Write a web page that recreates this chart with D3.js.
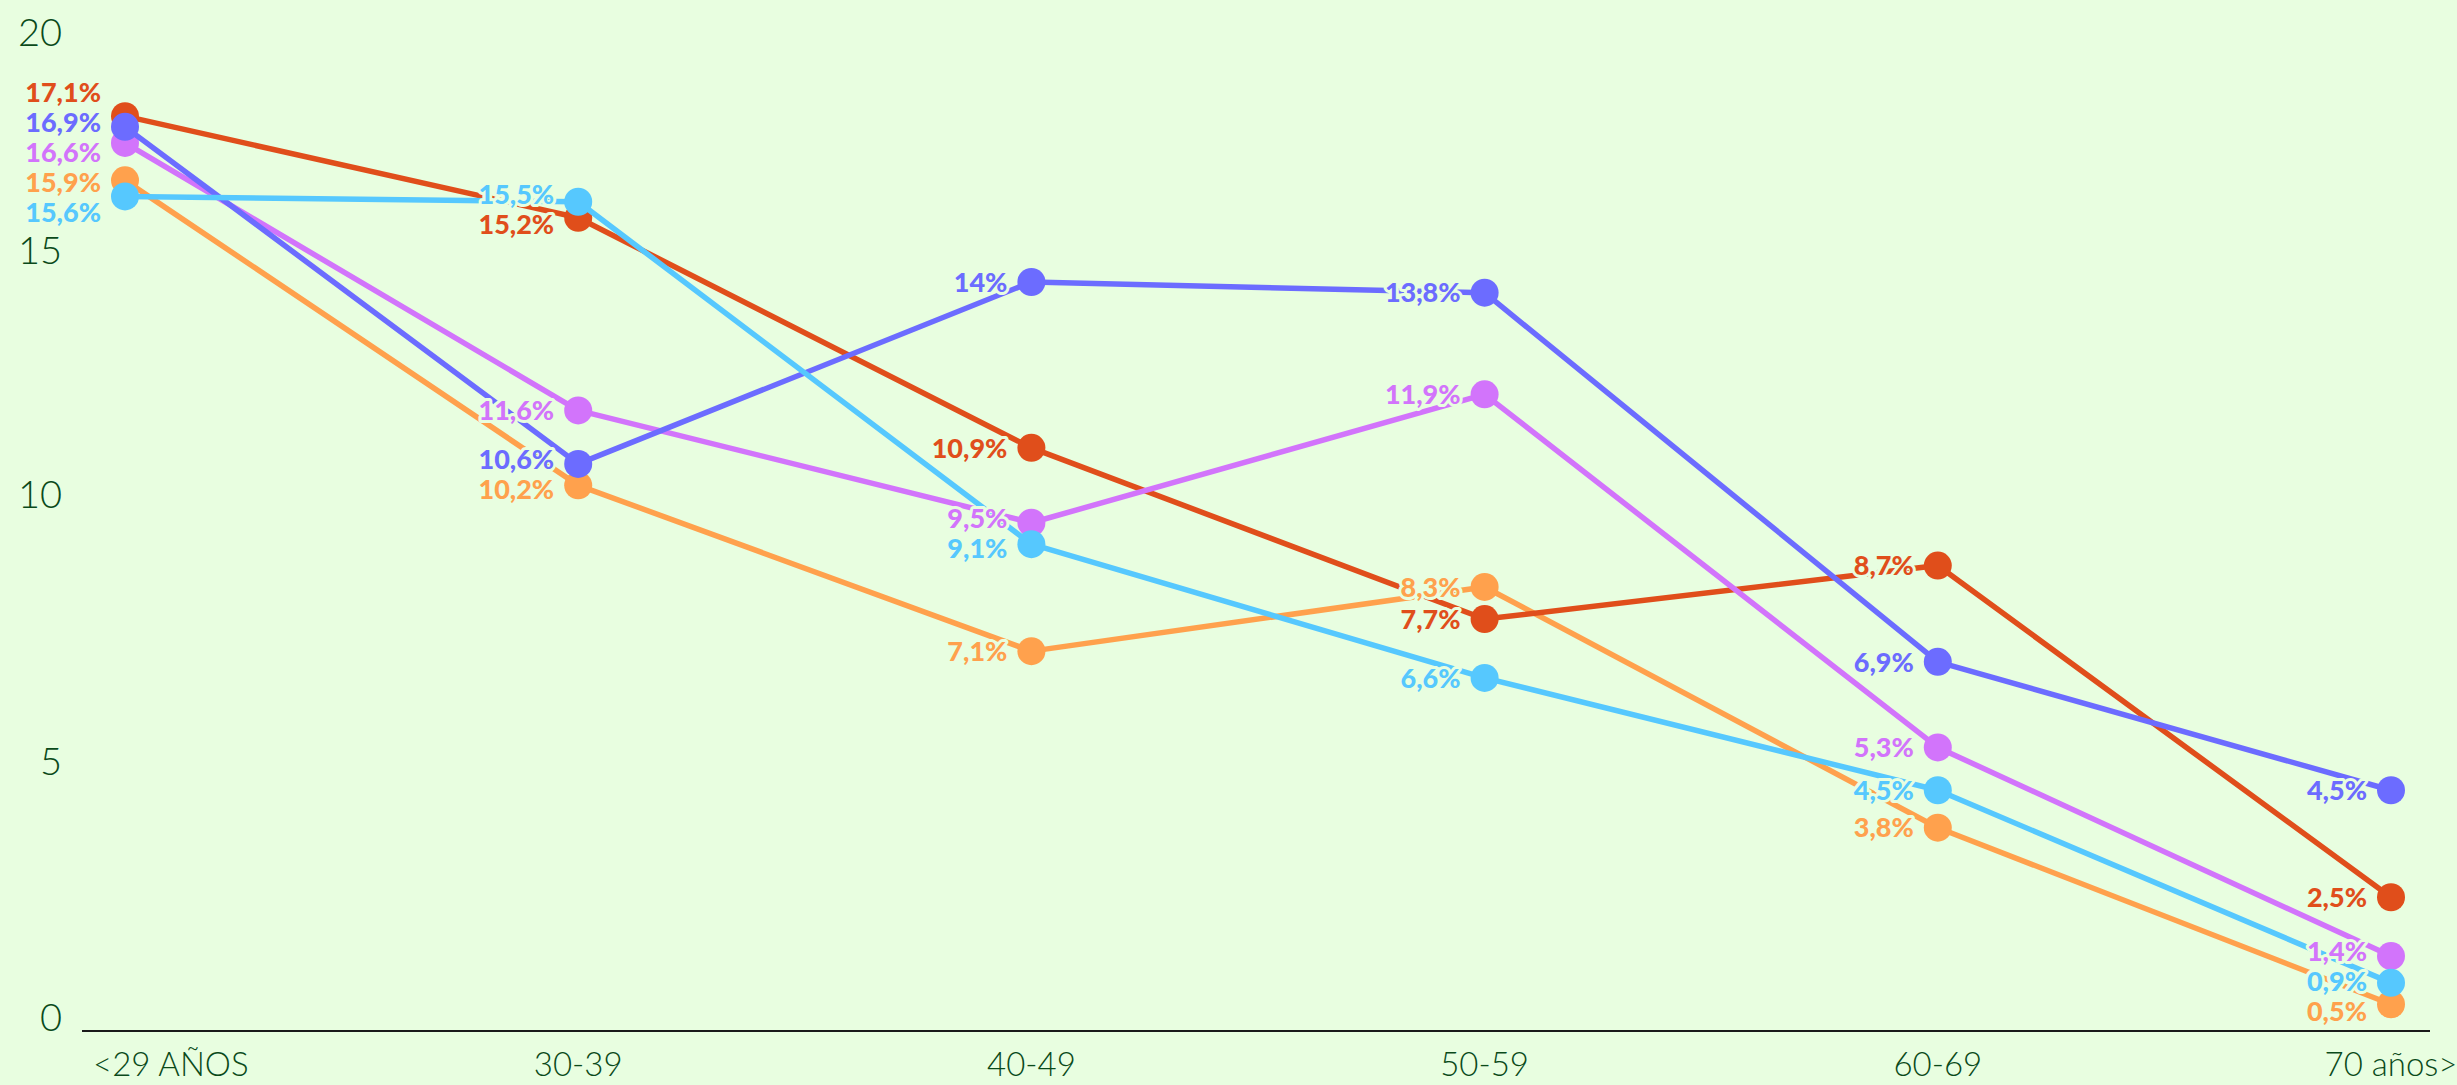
<!DOCTYPE html>
<html>
<head>
<meta charset="utf-8">
<script src="https://cdn.jsdelivr.net/npm/d3@7"></script>
<style>
  html, body { margin: 0; padding: 0; background: #e8fee0; }
  svg { display: block; }
</style>
</head>
<body>
<div id="chart"></div>
<script>
// age groups on the x axis
const categories = ["<29 AÑOS", "30-39", "40-49", "50-59", "60-69", "70 años>"];

// percentages per series
const serieRoja    = [17.1, 15.2, 10.9, 7.7, 8.7, 2.5];
const serieAzul    = [16.9, 10.6, 14, 13.8, 6.9, 4.5];
const serieMorada  = [16.6, 11.6, 9.5, 11.9, 5.3, 1.4];
const serieNaranja = [15.9, 10.2, 7.1, 8.3, 3.8, 0.5];
const serieCeleste = [15.6, 15.5, 9.1, 6.6, 4.5, 0.9];

const yTicks = [0, 5, 10, 15, 20];

const width = 2457, height = 1085;
const bg = "#e8fee0";
const textColor = "#0a4a1a";

// draw order: bottom to top
const series = [
  { name: "naranja", values: serieNaranja, color: "#ffa14d" },
  { name: "roja", values: serieRoja, color: "#e04e1b" },
  { name: "morada", values: serieMorada, color: "#d274fb" },
  { name: "azul", values: serieAzul, color: "#6c6cff" },
  { name: "celeste", values: serieCeleste, color: "#56c8fe" }
];

const svg = d3.select("#chart").append("svg")
  .attr("width", width)
  .attr("height", height);

svg.append("rect")
  .attr("width", width)
  .attr("height", height)
  .attr("fill", bg);

const x = d3.scalePoint()
  .domain(categories)
  .range([125, 2391]);

const y = d3.scaleLinear()
  .domain([0, 20])
  .range([1031, -39]);

// tick labels sit a bit off the data scale at the top in the original
const yLabel = d3.scaleLinear()
  .domain([0, 5, 10, 15, 20])
  .range([1018, 762, 495, 251, 33]);

// y tick labels
svg.append("g")
  .selectAll("text")
  .data(yTicks)
  .enter().append("text")
  .attr("x", 62)
  .attr("y", d => yLabel(d))
  .attr("dy", "0.35em")
  .attr("text-anchor", "end")
  .attr("fill", textColor)
  .style("font-family", "Lato, 'Open Sans', sans-serif")
  .style("font-weight", 300)
  .style("font-size", "38px")
  .text(d => d);

// baseline
svg.append("line")
  .attr("x1", 82)
  .attr("x2", 2430)
  .attr("y1", y(0))
  .attr("y2", y(0))
  .attr("stroke", "#1a1a1a")
  .attr("stroke-width", 2);

// x labels
svg.append("g")
  .selectAll("text")
  .data(categories)
  .enter().append("text")
  .attr("x", (d, i) => i === 0 ? x(d) - 32 : x(d))
  .attr("y", 1076)
  .attr("text-anchor", (d, i) => i === 0 ? "start" : "middle")
  .attr("fill", textColor)
  .style("font-family", "Lato, 'Open Sans', sans-serif")
  .style("font-weight", 300)
  .style("font-size", "33px")
  .text(d => d);

const line = d3.line()
  .x((d, i) => x(categories[i]))
  .y(d => y(d));

const layers = svg.append("g");

series.forEach(s => {
  const g = layers.append("g");
  g.append("path")
    .datum(s.values)
    .attr("fill", "none")
    .attr("stroke", s.color)
    .attr("stroke-width", 5.5)
    .attr("stroke-linejoin", "round")
    .attr("d", line);

  g.selectAll("circle")
    .data(s.values)
    .enter().append("circle")
    .attr("cx", (d, i) => x(categories[i]))
    .attr("cy", d => y(d))
    .attr("r", 14)
    .attr("fill", s.color);
});

// labels: spread per column so they don't overlap
const fmt = v => (Number.isInteger(v) ? String(v) : v.toFixed(1).replace(".", ",")) + "%";
const minGap = 30;
const labels = [];

categories.forEach((c, i) => {
  const col = series.map(s => ({ s, v: s.values[i], y0: y(s.values[i]) }))
    .sort((a, b) => a.y0 - b.y0);
  col.forEach(d => d.y = d.y0);
  for (let iter = 0; iter < 200; iter++) {
    let moved = false;
    for (let k = 1; k < col.length; k++) {
      const gap = col[k].y - col[k - 1].y;
      if (gap < minGap) {
        const push = (minGap - gap) / 2;
        col[k - 1].y -= push;
        col[k].y += push;
        moved = true;
      }
    }
    if (!moved) break;
  }
  col.forEach(d => labels.push({ x: x(c) - 24, y: d.y, text: fmt(d.v), color: d.s.color }));
});

svg.append("g")
  .selectAll("text")
  .data(labels)
  .enter().append("text")
  .attr("x", d => d.x)
  .attr("y", d => d.y)
  .attr("dy", "0.36em")
  .attr("text-anchor", "end")
  .attr("fill", d => d.color)
  .attr("stroke", bg)
  .attr("stroke-width", 6)
  .attr("stroke-linejoin", "round")
  .style("paint-order", "stroke")
  .style("font-family", "Lato, 'Open Sans', sans-serif")
  .style("font-weight", 900)
  .style("font-size", "27px")
  .text(d => d.text);
</script>
</body>
</html>
